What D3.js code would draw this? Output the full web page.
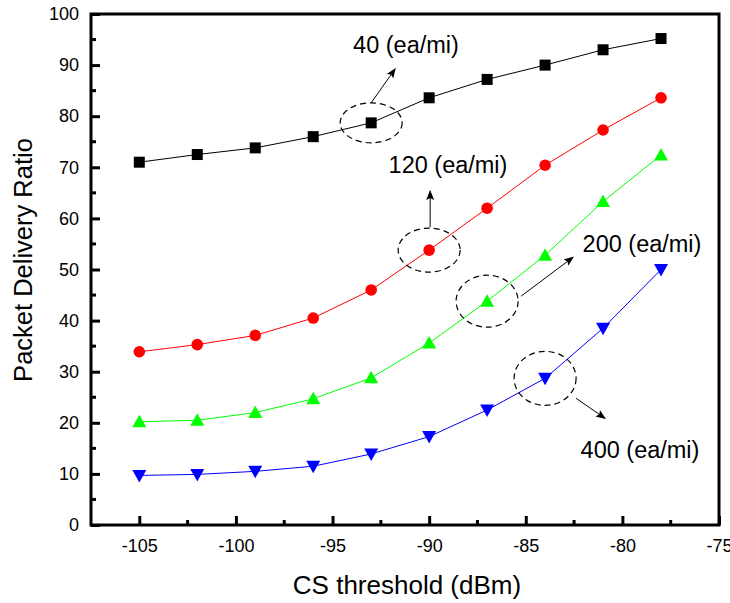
<!DOCTYPE html>
<html><head><meta charset="utf-8">
<script src="https://cdn.jsdelivr.net/npm/d3@7"></script>
<style>body{margin:0;background:#fff}svg{display:block}text{font-family:Arial,"Liberation Sans",sans-serif;fill:#000}</style>
</head><body>
<svg id="c" width="730" height="603"></svg>
<script>
const xValues = [-105, -102, -99, -96, -93, -90, -87, -84, -81, -78];
const s40  = [71.0, 72.5, 73.8, 76.0, 78.7, 83.6, 87.2, 90.0, 93.0, 95.2];
const s120 = [33.9, 35.3, 37.1, 40.5, 46.0, 53.8, 62.0, 70.4, 77.3, 83.6];
const s200 = [20.2, 20.5, 22.0, 24.7, 28.8, 35.6, 43.8, 52.8, 63.3, 72.4];
const s400 = [9.7, 9.9, 10.5, 11.5, 13.9, 17.3, 22.5, 28.7, 38.5, 50.0];
const xTicks = [-105, -100, -95, -90, -85, -80, -75];
const yTicks = [0, 10, 20, 30, 40, 50, 60, 70, 80, 90, 100];
const seriesNames = ["40 (ea/mi)", "120 (ea/mi)", "200 (ea/mi)", "400 (ea/mi)"];
// annotation targets: circled data point of each series
const annoPoints = [[-93, 78.7], [-90, 53.8], [-87, 43.8], [-84, 28.7]];

const svg = d3.select("#c");
const L = 91, R = 719, T = 14, B = 525;
const x = d3.scaleLinear().domain([-107.5, -75]).range([L, R]);
const y = d3.scaleLinear().domain([0, 100]).range([B, T]);

const series = [
  {name: seriesNames[0], vals: s40, color: "#000000", shape: "square"},
  {name: seriesNames[1], vals: s120, color: "#ff0000", shape: "circle"},
  {name: seriesNames[2], vals: s200, color: "#00ff00", shape: "tri"},
  {name: seriesNames[3], vals: s400, color: "#0000ff", shape: "dtri"}
];

const line = d3.line().x((d,i)=>x(xValues[i])).y(d=>y(d));
series.forEach(s=>{
  svg.append("path").attr("d", line(s.vals)).attr("fill","none").attr("stroke", s.color).attr("stroke-width",1);
  const g = svg.append("g");
  s.vals.forEach((v,i)=>{
    const cx = x(xValues[i]), cy = y(v);
    if (s.shape==="square") g.append("rect").attr("x",cx-5.5).attr("y",cy-5.5).attr("width",11).attr("height",11).attr("fill",s.color);
    else if (s.shape==="circle") g.append("circle").attr("cx",cx).attr("cy",cy).attr("r",5.8).attr("fill",s.color);
    else if (s.shape==="tri") g.append("path").attr("d",`M${cx},${cy-7}L${cx+7},${cy+5.5}L${cx-7},${cy+5.5}Z`).attr("fill",s.color);
    else g.append("path").attr("d",`M${cx},${cy+7}L${cx+7},${cy-5.5}L${cx-7},${cy-5.5}Z`).attr("fill",s.color);
  });
});

// frame
svg.append("rect").attr("x",L).attr("y",T).attr("width",R-L).attr("height",B-T).attr("fill","none").attr("stroke","#000").attr("stroke-width",3);

const fmt = d => String(d);
// axes with inward ticks
const xAxis = d3.axisBottom(x).tickValues(xTicks).tickSize(-9).tickPadding(14).tickFormat(fmt);
const gx = svg.append("g").attr("transform",`translate(0,${B})`).call(xAxis);
gx.select(".domain").remove();
gx.selectAll(".tick line").attr("stroke","#000").attr("stroke-width",3);
gx.selectAll("text").attr("font-size",18).attr("font-family","Arial, 'Liberation Sans', sans-serif").attr("fill","#000");
const xMinor = d3.range(-102.5, -75, 5);
svg.append("g").selectAll("line").data(xMinor).join("line")
  .attr("x1",d=>x(d)).attr("x2",d=>x(d)).attr("y1",B).attr("y2",B-5).attr("stroke","#000").attr("stroke-width",3);

const yAxis = d3.axisLeft(y).tickValues(yTicks).tickSize(-9).tickPadding(12).tickFormat(fmt);
const gy = svg.append("g").attr("transform",`translate(${L},0)`).call(yAxis);
gy.select(".domain").remove();
gy.selectAll(".tick line").attr("stroke","#000").attr("stroke-width",3);
gy.selectAll("text").attr("font-size",18).attr("font-family","Arial, 'Liberation Sans', sans-serif").attr("fill","#000");
const yMinor = d3.range(5, 100, 10);
svg.append("g").selectAll("line").data(yMinor).join("line")
  .attr("x1",L).attr("x2",L+5).attr("y1",d=>y(d)).attr("y2",d=>y(d)).attr("stroke","#000").attr("stroke-width",3);

// titles
svg.append("text").attr("x",407).attr("y",594).attr("text-anchor","middle").attr("font-size",26).text("CS threshold (dBm)");
svg.append("text").attr("transform",`translate(32,260) rotate(-90)`).attr("text-anchor","middle").attr("font-size",25.5).text("Packet Delivery Ratio");

// annotations
svg.append("defs").append("marker").attr("id","ah").attr("viewBox","0 0 10 10").attr("refX",9).attr("refY",5)
  .attr("markerWidth",10).attr("markerHeight",10).attr("markerUnits","userSpaceOnUse").attr("orient","auto")
  .append("path").attr("d","M0,1L10,5L0,9L2,5Z").attr("fill","#000");

const annos = [
  {ry:20, from:[0,-20], to:[24,-54], tx:406, ty:53},
  {ry:22, from:[1,-23], to:[1,-59], tx:448, ty:173},
  {ry:26, from:[34,-5], to:[86,-44], tx:642, ty:252},
  {ry:27, from:[31,20], to:[60,40], tx:640, ty:458}
];
annos.forEach((a,i)=>{
  const cx = x(annoPoints[i][0]), cy = y(annoPoints[i][1]);
  svg.append("ellipse").attr("cx",cx).attr("cy",cy).attr("rx",31).attr("ry",a.ry)
    .attr("fill","none").attr("stroke","#000").attr("stroke-width",1.2).attr("stroke-dasharray","6,4");
  svg.append("line").attr("x1",cx+a.from[0]).attr("y1",cy+a.from[1]).attr("x2",cx+a.to[0]).attr("y2",cy+a.to[1])
    .attr("stroke","#000").attr("stroke-width",1).attr("marker-end","url(#ah)");
  svg.append("text").attr("x",a.tx).attr("y",a.ty).attr("text-anchor","middle").attr("font-size",23.5).text(seriesNames[i]);
});
</script>
</body></html>
